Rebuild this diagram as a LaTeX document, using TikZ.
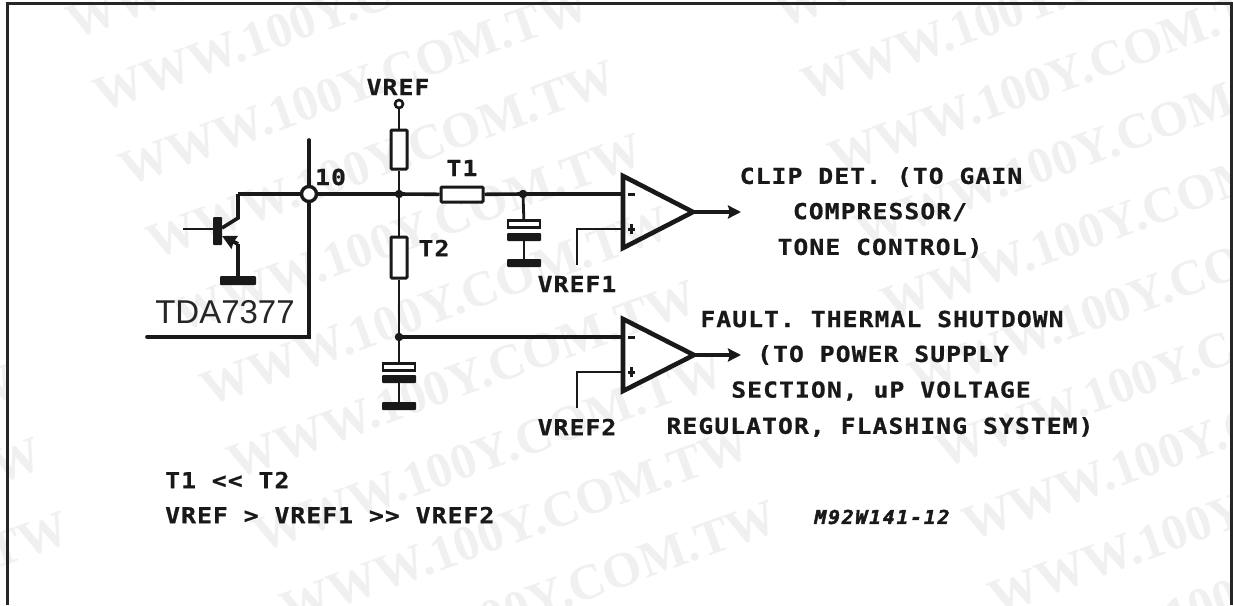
\documentclass[tikz,border=0pt]{standalone}
\usepackage{fontspec}
\usetikzlibrary{arrows.meta}
\newfontfamily\schemfont[LetterSpace=5,FakeStretch=1.12,FakeBold=0.8]{DejaVu Sans Mono Bold}
\newfontfamily\tagfont[LetterSpace=10,FakeStretch=1.03,FakeBold=2.5]{DejaVu Sans Mono Bold Oblique}
\newfontfamily\markfont{Liberation Serif Bold}
\newfontfamily\partfont{Liberation Sans}
\tikzset{
  wire/.style={line width=3.6pt,black!90},
  thinwire/.style={line width=2.8pt,black!90},
  border/.style={line width=3pt,black!85},
  res/.style={draw=black!90,line width=3pt,fill=white,inner sep=0pt,rounded corners=1pt},
  plate/.style={draw=black!90,line width=2.8pt,fill=white,inner sep=0pt,minimum width=32pt,minimum height=6.5pt},
  bar/.style={fill=black!90,inner sep=0pt,minimum width=34pt,minimum height=8pt,rounded corners=1pt},
  dotj/.style={circle,fill=black!90,inner sep=0pt,minimum size=8.5pt},
  lab/.style={inner sep=0pt,font={\schemfont\fontsize{22}{22}\selectfont},text=black!90},
  amp/.style={line width=4.6pt,black!90,line join=miter},
  outarrow/.style={line width=3.2pt,black!90,-{Stealth[length=13pt,width=13pt,inset=2pt]}},
  wmark/.style={inner sep=0pt,anchor=base west,rotate=20,text=black!6,font={\markfont\fontsize{50}{50}\selectfont}}
}
\begin{document}
\begin{tikzpicture}[x=1pt,y=-1pt]
\useasboundingbox (0,0) rectangle (1233,605);
\fill[white] (0,0) rectangle (1233,605);
\begin{scope}
\clip (0,0) rectangle (1233,605);
\foreach \c/\sx/\sy in {0/-708/11,1/0/0,2/708/-11}{
  \foreach \r in {-3,...,8}{
    \node[wmark] (wm\c x\r) at ({101+26.8*\r+\sx},{113+73.3*\r+\sy}) {WWW.100Y.COM.TW};
  }
}
\end{scope}
\draw[border] (7,605) -- (7,3) -- (1231,3) -- (1231,605);

% pin / chip boundary
\coordinate (pintop) at (309,140);
\coordinate (pinbot) at (309,337);
\coordinate (chipleft) at (147,337);
\draw[wire,line cap=round,line join=miter] (pintop) -- (pinbot) -- (chipleft);

% transistor
\coordinate (q1up) at (238,194);
\coordinate (q1c) at (238,218);
\coordinate (q1cb) at (222,228);
\coordinate (q1in) at (183,229);
\coordinate (q1e) at (238,244);
\coordinate (q1eb) at (222,236);
\node[fill=black!90,inner sep=0pt,minimum width=9pt,minimum height=28pt,rounded corners=1pt] (q1b) at (217.5,231) {};
\node[bar,minimum width=36pt,minimum height=9pt] (gq) at (238,280.5) {};
\draw[thinwire,line width=2pt] (q1in) -- (q1b.west |- q1in);
\draw[wire,line join=miter] (q1up) -- (q1c) -- (q1cb);
\draw[wire,line join=round] (gq.north -| q1e) -- (q1e);
\draw[wire,line width=4pt,-{Stealth[length=14pt,width=14pt,inset=1pt]}] (q1e) -- (q1eb);

% pin node 10
\node[circle,draw=black!90,line width=3.4pt,fill=white,inner sep=0pt,minimum size=15pt] (pin10) at (309,194) {};
\coordinate (j1) at (399,194);
\coordinate (j2) at (523,194);
\coordinate (j3) at (399,337);
\node[res,minimum width=16pt,minimum height=39pt] (r1) at (399,149.5) {};
\node[res,minimum width=16pt,minimum height=41pt] (r2) at (399,257.5) {};
\node[res,minimum width=42pt,minimum height=15pt] (r3) at (462,194.5) {};
\node[circle,draw=black!90,line width=2.6pt,fill=white,inner sep=0pt,minimum size=8pt] (vt) at (399,104) {};

% amplifiers
\coordinate (a1t) at (623,176);
\coordinate (a1b) at (623,248);
\coordinate (a1o) at (693,212);
\coordinate (a1m) at (623,194);
\coordinate (a1p) at (623,229);
\coordinate (a1r) at (577,265);
\coordinate (a1k) at (577,229);
\coordinate (a1tip) at (741,212);
\coordinate (a2t) at (623,319);
\coordinate (a2b) at (623,391);
\coordinate (a2o) at (694,355);
\coordinate (a2m) at (623,337);
\coordinate (a2p) at (623,372);
\coordinate (a2r) at (577,408);
\coordinate (a2k) at (577,372);
\coordinate (a2tip) at (741,355);
\draw[amp] (a1t) -- (a1o) -- (a1b) -- cycle;
\draw[amp] (a2t) -- (a2o) -- (a2b) -- cycle;

% capacitors
\node[plate] (c1a) at (524,224) {};
\node[bar] (c1b) at (524,237) {};
\node[bar] (g1) at (524,263) {};
\node[plate] (c2a) at (399,367) {};
\node[bar] (c2b) at (399,379) {};
\node[bar] (g2) at (399,406) {};

% wires
\draw[wire] (q1up) -- (pin10);
\draw[wire] (pin10) -- (j1) -- (r3);
\draw[wire] (r3) -- (j2) -- (a1m);
\draw[thinwire] (vt) -- (r1);
\draw[thinwire] (r1) -- (j1);
\draw[thinwire] (j1) -- (r2);
\draw[thinwire] (r2) -- (j3);
\draw[thinwire] (j3) -- (c2a);
\draw[thinwire] (c2b) -- (g2);
\draw[thinwire] (j2) -- (c1a);
\draw[thinwire] (c1b) -- (g1);
\draw[wire] (j3) -- (a2m);
\draw[thinwire] (a1r) -- (a1k) -- (a1p);
\draw[thinwire] (a2r) -- (a2k) -- (a2p);
\draw[outarrow] (a1o) -- (a1tip);
\draw[outarrow] (a2o) -- (a2tip);
\node[dotj] (dj1) at (j1) {};
\node[dotj] (dj2) at (j2) {};
\node[dotj] (dj3) at (j3) {};

% input signs
\foreach \n/\y in {1/194,2/337}{
  \node[fill=black!90,inner sep=0pt,minimum width=7pt,minimum height=3pt] (mi\n) at (631,\y) {};
}
\foreach \n/\y in {1/229,2/372}{
  \node[fill=black!90,inner sep=0pt,minimum width=7pt,minimum height=3pt] (plh\n) at (631,\y) {};
  \node[fill=black!90,inner sep=0pt,minimum width=3pt,minimum height=10pt] (plv\n) at (631,\y) {};
}

% labels
\node[lab] (lvref) at (398,87) {VREF};
\node[lab,anchor=west] (l10) at (315,177) {10};
\node[lab] (lt1) at (462,168) {T1};
\node[lab] (lt2) at (434,248) {T2};
\node[inner sep=0pt,anchor=base,font={\partfont\fontsize{33}{33}\selectfont},text=black!85] (chip) at (225,323) {TDA7377};
\node[lab] (lv1) at (577,284) {VREF1};
\node[lab] (lv2) at (577,427) {VREF2};
\node[lab] (t1a) at (881,177) {CLIP DET. (TO GAIN};
\node[lab] (t1b) at (880,212) {COMPRESSOR/};
\node[lab] (t1c) at (880,248) {TONE CONTROL)};
\node[lab] (t2a) at (882,319) {FAULT. THERMAL SHUTDOWN};
\node[lab] (t2b) at (883,355) {(TO POWER SUPPLY};
\node[lab] (t2c) at (881,391) {SECTION, uP VOLTAGE};
\node[lab] (t2d) at (880,427) {REGULATOR, FLASHING SYSTEM)};
\node[lab,anchor=west] (n1) at (165,480) {T1 << T2};
\node[lab,anchor=west] (n2) at (165,515) {VREF > VREF1 >> VREF2};
\node[inner sep=0pt,font={\tagfont\fontsize{19}{19}\selectfont},text=black!90] (tag) at (882,517) {M92W141-12};
\end{tikzpicture}
\end{document}
